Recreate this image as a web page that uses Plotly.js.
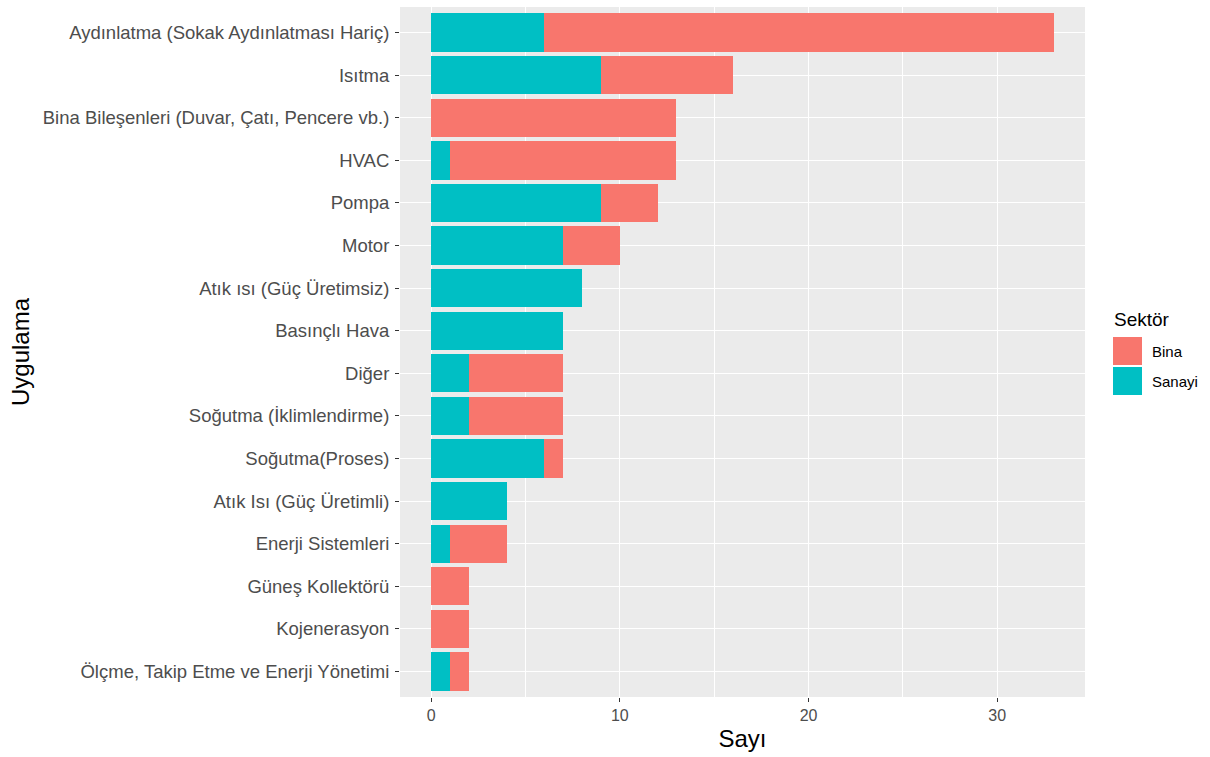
<!DOCTYPE html>
<html>
<head>
<meta charset="utf-8">
<script src="https://cdn.plot.ly/plotly-3.0.1.min.js"></script>
<style>html,body{margin:0;padding:0;background:#fff;}#chart{width:1210px;height:757px;}</style>
</head>
<body>
<div id="chart"></div>
<script>
// Categories, top to bottom
var categories = [
  "Aydınlatma (Sokak Aydınlatması Hariç)",
  "Isıtma",
  "Bina Bileşenleri (Duvar, Çatı, Pencere vb.)",
  "HVAC",
  "Pompa",
  "Motor",
  "Atık ısı (Güç Üretimsiz)",
  "Basınçlı Hava",
  "Diğer",
  "Soğutma (İklimlendirme)",
  "Soğutma(Proses)",
  "Atık Isı (Güç Üretimli)",
  "Enerji Sistemleri",
  "Güneş Kollektörü",
  "Kojenerasyon",
  "Ölçme, Takip Etme ve Enerji Yönetimi"
];
var sanayi = [6, 9, 0, 1, 9, 7, 8, 7, 2, 2, 6, 4, 1, 0, 0, 1];
var bina   = [27, 7, 13, 12, 3, 3, 0, 0, 5, 5, 1, 0, 3, 2, 2, 1];
var seriesNames = ["Bina", "Sanayi"];
var seriesColors = {"Bina": "#F8766D", "Sanayi": "#00BFC4"};
var legendTitle = "Sektör";
var xTicks = [0, 10, 20, 30];

var font = "Liberation Sans, Arial, sans-serif";

var traces = [
  {type: "bar", orientation: "h", name: "Sanayi", y: categories, x: sanayi,
   marker: {color: seriesColors["Sanayi"], line: {width: 0}}, width: 0.9, showlegend: false,
   hoverinfo: "x+y+name"},
  {type: "bar", orientation: "h", name: "Bina", y: categories, x: bina,
   marker: {color: seriesColors["Bina"], line: {width: 0}}, width: 0.9, showlegend: false,
   hoverinfo: "x+y+name"}
];

// manual ggplot-like legend (paper coords: panel x 400..1085, y 7..697)
function px(x) { return (x - 400) / 685; }
function py(y) { return (697 - y) / 690; }
var shapes = [];
var annotations = [{
  xref: "paper", yref: "paper", x: px(1112), y: py(319), xanchor: "left", yanchor: "middle",
  text: legendTitle, showarrow: false, font: {family: font, size: 19, color: "#000"}
}];
var lx0 = 1113, lw = 29, ly0 = 337, lh = 28;
seriesNames.forEach(function(n, i) {
  var top = ly0 + i * (lh + 2);
  shapes.push({type: "rect", xref: "paper", yref: "paper",
    x0: px(lx0), x1: px(lx0 + lw),
    y0: py(top + lh), y1: py(top),
    fillcolor: seriesColors[n], line: {width: 0}});
  annotations.push({xref: "paper", yref: "paper",
    x: px(1150), y: py(top + lh / 2),
    xanchor: "left", yanchor: "middle", text: n, showarrow: false,
    font: {family: font, size: 15, color: "#000"}});
});

var layout = {
  width: 1210, height: 757,
  margin: {l: 400, r: 125, t: 7, b: 60, pad: 0},
  paper_bgcolor: "#FFFFFF",
  plot_bgcolor: "#EBEBEB",
  barmode: "stack",
  bargap: 0.1,
  font: {family: font},
  showlegend: false,
  xaxis: {
    range: [-1.65, 34.65],
    tickvals: xTicks, ticktext: xTicks.map(String),
    showgrid: true, gridcolor: "#FFFFFF", gridwidth: 1.1,
    minor: {dtick: 5, tick0: 5, showgrid: true, gridcolor: "#FFFFFF", gridwidth: 0.5, ticks: ""},
    zeroline: false,
    ticks: "outside", ticklen: 4, tickcolor: "#333333", tickwidth: 1,
    tickfont: {family: font, size: 16, color: "#4D4D4D"},
    title: {text: "Sayı", font: {family: font, size: 24, color: "#000"}, standoff: 6},
    showline: false, fixedrange: true
  },
  yaxis: {
    type: "category",
    categoryorder: "array", categoryarray: categories,
    range: [15.6, -0.6],
    showgrid: true, gridcolor: "#FFFFFF", gridwidth: 1.1,
    zeroline: false,
    ticks: "outside", ticklen: 4, tickcolor: "#333333", tickwidth: 1,
    ticklabelstandoff: 2,
    tickfont: {family: font, size: 18.5, color: "#4D4D4D"},
    title: {text: "Uygulama", font: {family: font, size: 24, color: "#000"}, standoff: 6},
    showline: false, fixedrange: true
  },
  shapes: shapes,
  annotations: annotations
};

Plotly.newPlot("chart", traces, layout, {displayModeBar: false});
</script>
</body>
</html>
